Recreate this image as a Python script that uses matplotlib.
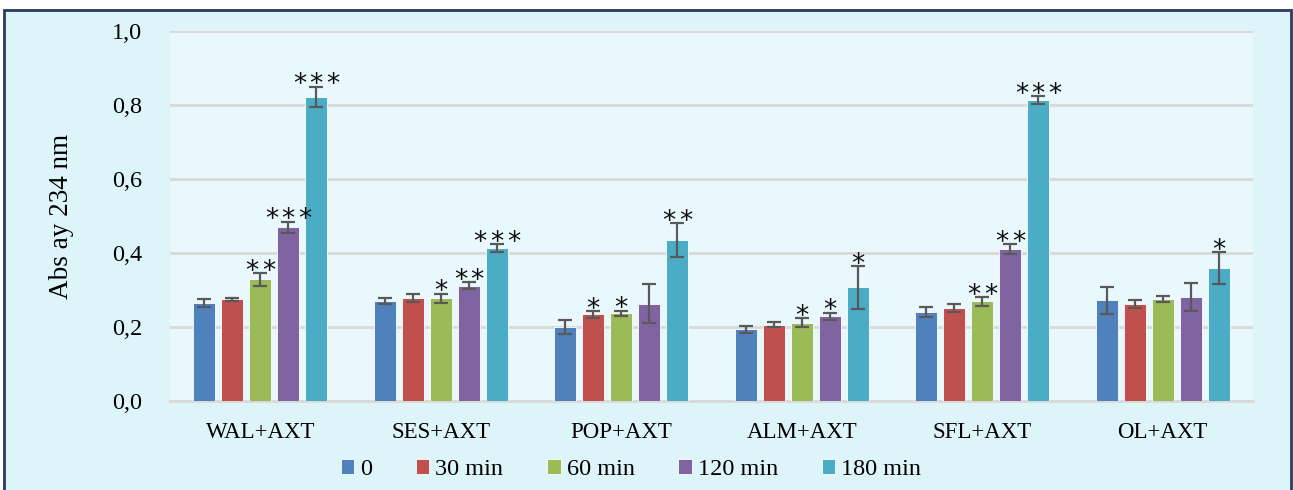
import matplotlib.pyplot as plt
import numpy as np
from matplotlib.patches import Rectangle
from matplotlib.ticker import FuncFormatter

groups = ["WAL+AXT", "SES+AXT", "POP+AXT", "ALM+AXT", "SFL+AXT", "OL+AXT"]
series = ["0", "30 min", "60 min", "120 min", "180 min"]
colors = ["#4F81BD", "#C0504D", "#9BBB59", "#8064A2", "#4BACC6"]

# rows = groups, cols = time points
means = [
    [0.265, 0.275, 0.329, 0.469, 0.822],
    [0.270, 0.278, 0.278, 0.312, 0.413],
    [0.200, 0.234, 0.237, 0.263, 0.434],
    [0.194, 0.206, 0.212, 0.229, 0.307],
    [0.240, 0.251, 0.269, 0.410, 0.814],
    [0.272, 0.263, 0.276, 0.280, 0.359],
]
errors = [
    [0.012, 0.004, 0.017, 0.016, 0.028],
    [0.009, 0.011, 0.012, 0.009, 0.010],
    [0.018, 0.009, 0.007, 0.052, 0.046],
    [0.010, 0.007, 0.011, 0.009, 0.058],
    [0.014, 0.010, 0.012, 0.013, 0.010],
    [0.036, 0.011, 0.009, 0.038, 0.043],
]
# number of significance stars over each bar
stars = [
    [0, 0, 2, 3, 3],
    [0, 0, 1, 2, 3],
    [0, 1, 1, 0, 2],
    [0, 0, 1, 1, 1],
    [0, 0, 2, 2, 3],
    [0, 0, 0, 0, 1],
]

plt.rcParams["font.family"] = ["Liberation Serif", "DejaVu Serif"]

fig = plt.figure(figsize=(12.93, 4.9), dpi=100, facecolor="white")
fig.patches.append(
    Rectangle((4 / 1293, -0.05), 1287 / 1293, 1.05 - 10.5 / 490,
              transform=fig.transFigure, facecolor="#DDF4F9",
              edgecolor="#2E3B5E", linewidth=2, zorder=-10)
)
ax = fig.add_axes([170 / 1293, 1 - 401 / 490, 1083 / 1293, 370 / 490])
ax.set_zorder(2)
ax.set_facecolor("#E9F8FC")

means = np.array(means)
errors = np.array(errors)
x = np.arange(len(groups))
step = 0.155
width = 0.122
for j, name in enumerate(series):
    pos = x + (j - 2) * step
    ax.bar(pos, means[:, j], width, color=colors[j], label=name,
           edgecolor="#FFFFFF", linewidth=0.6, zorder=3,
           yerr=errors[:, j], capsize=5,
           error_kw=dict(ecolor="#595959", elinewidth=1.6, capthick=1.6))
    for i in range(len(groups)):
        n = stars[i][j]
        for k in range(n):
            ax.annotate("*", (pos[i], means[i, j] + errors[i, j]),
                        xytext=((k - (n - 1) / 2) * 12, -4),
                        textcoords="offset points", ha="center",
                        va="baseline", fontsize=19, family="DejaVu Sans",
                        color="#111111", zorder=5)

ax.set_xlim(-0.5, len(groups) - 0.5)
ax.set_ylim(0, 1.0)
ax.set_yticks(np.arange(0, 1.01, 0.2))
ax.yaxis.set_major_formatter(FuncFormatter(lambda v, _: f"{v:.1f}".replace(".", ",")))
ax.set_xticks(x)
ax.set_xticklabels(groups)
ax.tick_params(axis="both", length=0, colors="#000000")
ax.tick_params(axis="x", pad=15, labelsize=16.5)
ax.tick_params(axis="y", pad=20, labelsize=17.5)
ax.grid(axis="y", color="#D9D9D9", linewidth=2, zorder=1)
for side in ["top", "right", "left"]:
    ax.spines[side].set_visible(False)
ax.spines["bottom"].set_color("#D9D9D9")
ax.spines["bottom"].set_linewidth(2)
ax.set_ylabel("Abs ay 234 nm", fontsize=19.5, labelpad=27)

handles, labels = ax.get_legend_handles_labels()
fig.legend(handles, labels, loc="center", bbox_to_anchor=(0.488, 0.041),
           ncol=5, frameon=False, fontsize=17.5, handlelength=0.55,
           handleheight=0.55, handletextpad=0.25, columnspacing=1.8)

fig.savefig("out.png", dpi=100, facecolor=fig.get_facecolor())
